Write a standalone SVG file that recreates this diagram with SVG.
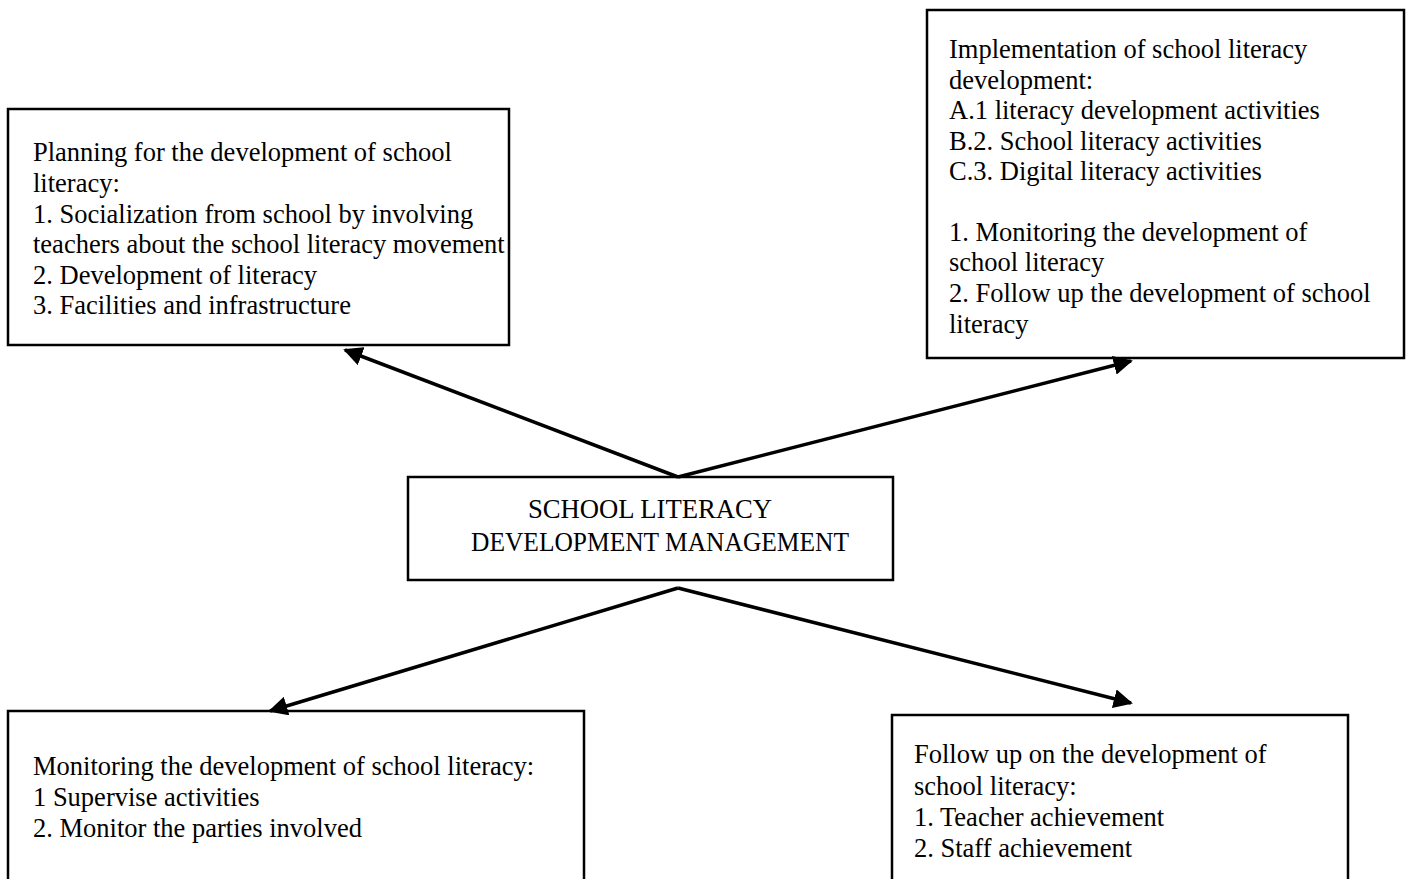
<svg xmlns="http://www.w3.org/2000/svg" width="1408" height="879" viewBox="0 0 1408 879">
<style>
.box{fill:#fff;stroke:#000;stroke-width:2.5}
.t{font-family:"Liberation Serif","Times New Roman",serif;font-size:26.5px;fill:#000}
.c{text-anchor:middle}
.con{stroke:#000;stroke-width:3.5;fill:none}
</style>
<defs>
<marker id="ah" viewBox="0 0 10 10" refX="9" refY="5" markerWidth="5.5" markerHeight="5.5" orient="auto" markerUnits="strokeWidth">
<path d="M0,0 L10,5 L0,10 z" fill="#000"/>
</marker>
</defs>
<rect width="1408" height="879" fill="#fff"/>
<g id="planning">
<rect class="box" x="8" y="109" width="501" height="236"/>
<text class="t" x="33" y="161">Planning for the development of school</text>
<text class="t" x="33" y="192">literacy:</text>
<text class="t" x="33" y="223">1. Socialization from school by involving</text>
<text class="t" x="33" y="253">teachers about the school literacy movement</text>
<text class="t" x="33" y="284">2. Development of literacy</text>
<text class="t" x="33" y="314">3. Facilities and infrastructure</text>
</g>
<g id="implementation">
<rect class="box" x="927" y="10" width="477" height="348"/>
<text class="t" x="949" y="58">Implementation of school literacy</text>
<text class="t" x="949" y="89">development:</text>
<text class="t" x="949" y="119">A.1 literacy development activities</text>
<text class="t" x="949" y="150">B.2. School literacy activities</text>
<text class="t" x="949" y="180">C.3. Digital literacy activities</text>
<text class="t" x="949" y="241">1. Monitoring the development of</text>
<text class="t" x="949" y="271">school literacy</text>
<text class="t" x="949" y="302">2. Follow up the development of school</text>
<text class="t" x="949" y="333">literacy</text>
</g>
<g id="center">
<rect class="box" x="408" y="477" width="485" height="103"/>
<text class="t c" x="650" y="518" textLength="244" lengthAdjust="spacingAndGlyphs">SCHOOL LITERACY</text>
<text class="t c" x="660" y="551" textLength="378" lengthAdjust="spacingAndGlyphs">DEVELOPMENT MANAGEMENT</text>
</g>
<g id="monitoring">
<rect class="box" x="8" y="711" width="576" height="170"/>
<text class="t" x="33" y="775">Monitoring the development of school literacy:</text>
<text class="t" x="33" y="806">1 Supervise activities</text>
<text class="t" x="33" y="837">2. Monitor the parties involved</text>
</g>
<g id="followup">
<rect class="box" x="892" y="715" width="456" height="166"/>
<text class="t" x="914" y="763">Follow up on the development of</text>
<text class="t" x="914" y="795">school literacy:</text>
<text class="t" x="914" y="826">1. Teacher achievement</text>
<text class="t" x="914" y="857">2. Staff achievement</text>
</g>
<g id="connectors">
<line class="con" x1="678" y1="477" x2="345" y2="350" marker-end="url(#ah)"/>
<line class="con" x1="678" y1="477" x2="1131" y2="361" marker-end="url(#ah)"/>
<line class="con" x1="678" y1="588" x2="270" y2="711" marker-end="url(#ah)"/>
<line class="con" x1="678" y1="588" x2="1131" y2="703" marker-end="url(#ah)"/>
</g>
</svg>
